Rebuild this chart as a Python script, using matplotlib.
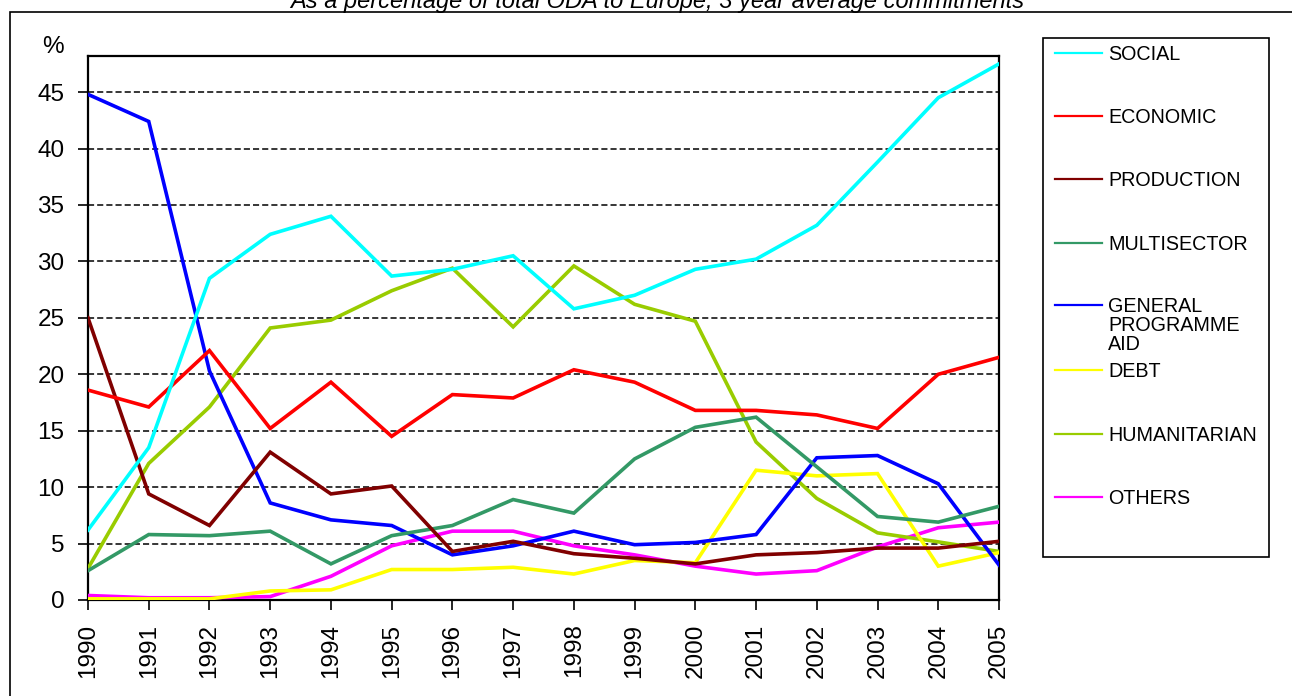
import matplotlib.pyplot as plt
from matplotlib.patches import Rectangle
from matplotlib.lines import Line2D

plt.rcParams['font.family'] = ['Liberation Sans', 'DejaVu Sans']

# --- DATA ---
years = list(range(1990, 2006))

social = [6.2, 13.5, 28.5, 32.4, 34.0, 28.7, 29.3, 30.5, 25.8, 27.0, 29.3, 30.2, 33.2, 38.8, 44.5, 47.5]
economic = [18.6, 17.1, 22.1, 15.2, 19.3, 14.5, 18.2, 17.9, 20.4, 19.3, 16.8, 16.8, 16.4, 15.2, 20.0, 21.5]
production = [25.0, 9.4, 6.6, 13.1, 9.4, 10.1, 4.3, 5.2, 4.1, 3.7, 3.2, 4.0, 4.2, 4.6, 4.6, 5.2]
multisector = [2.6, 5.8, 5.7, 6.1, 3.2, 5.7, 6.6, 8.9, 7.7, 12.5, 15.3, 16.2, 11.8, 7.4, 6.9, 8.3]
general_aid = [44.8, 42.4, 20.3, 8.6, 7.1, 6.6, 4.0, 4.8, 6.1, 4.9, 5.1, 5.8, 12.6, 12.8, 10.3, 3.1]
debt = [0.1, 0.1, 0.1, 0.8, 0.9, 2.7, 2.7, 2.9, 2.3, 3.5, 3.3, 11.5, 11.0, 11.2, 3.0, 4.2]
humanitarian = [2.8, 12.1, 17.1, 24.1, 24.8, 27.4, 29.4, 24.2, 29.6, 26.2, 24.7, 14.0, 9.0, 5.95, 5.15, 4.3]
others = [0.4, 0.2, 0.2, 0.3, 2.1, 4.8, 6.1, 6.1, 4.8, 4.0, 3.0, 2.3, 2.6, 4.7, 6.4, 6.9]

series_names = ["SOCIAL", "ECONOMIC", "PRODUCTION", "MULTISECTOR",
                "GENERAL\nPROGRAMME\nAID", "DEBT", "HUMANITARIAN", "OTHERS"]
series_values = [social, economic, production, multisector,
                 general_aid, debt, humanitarian, others]
series_colors = ["#00FFFF", "#FF0000", "#800000", "#339966",
                 "#0000FF", "#FFFF00", "#99CC00", "#FF00FF"]

title = "As a percentage of total ODA to Europe, 3 year average commitments"

# --- FIGURE ---
W, H = 1292, 696
fig = plt.figure(figsize=(W / 100, H / 100), dpi=100)

def fx(px):
    return px / W

def fy(py):
    return 1 - py / H

# outer chart frame (only left/top edges are inside the picture)
fig.patches.append(Rectangle((fx(10), fy(720)), fx(1320) - fx(10), fy(12) - fy(720),
                             transform=fig.transFigure, fill=False,
                             edgecolor='black', linewidth=1.2))

ax = fig.add_axes([fx(88), fy(600), fx(999) - fx(88), fy(56) - fy(600)])

# draw lines in reverse so SOCIAL sits on top
for name, vals, col in reversed(list(zip(series_names, series_values, series_colors))):
    ax.plot(years, vals, color=col, linewidth=2.6, solid_joinstyle='miter', zorder=3)

ax.set_xlim(1990, 2005)
ax.set_ylim(0, 48.2)
ax.set_yticks(range(0, 50, 5))
ax.set_xticks(years)
ax.set_xticklabels([str(y) for y in years], rotation=90)
ax.tick_params(axis='both', labelsize=17.5, direction='out', length=7, width=1.2,
               color='black')
ax.tick_params(axis='y', pad=10)
ax.tick_params(axis='x', pad=10)
ax.yaxis.grid(True, color='black', linestyle=(0, (4, 2)), linewidth=1.1)
ax.set_axisbelow(True)
for sp in ax.spines.values():
    sp.set_linewidth(1.6)
    sp.set_color('black')

fig.text(fx(42), fy(53), "%", fontsize=17.5, ha='left', va='baseline')
fig.text(fx(657), fy(8), title, fontsize=17, style='italic',
         ha='center', va='baseline')

# --- LEGEND (drawn by hand to mirror the spread-out Excel legend) ---
fig.patches.append(Rectangle((fx(1043), fy(557)), fx(1269) - fx(1043), fy(38) - fy(557),
                             transform=fig.transFigure, fill=False,
                             edgecolor='black', linewidth=1.2))
leg_y = [53, 116, 179, 243, 305, 370, 434, 497]
for name, col, ly in zip(series_names, series_colors, leg_y):
    fig.lines.append(Line2D([fx(1055), fx(1102)], [fy(ly), fy(ly)], color=col,
                            linewidth=1.6, transform=fig.transFigure))
    if "\n" in name:
        fig.text(fx(1108), fy(ly - 8), name, fontsize=14.2, ha='left', va='top',
                 linespacing=1.0)
    else:
        fig.text(fx(1108), fy(ly + 7), name, fontsize=14.2, ha='left', va='baseline')

fig.savefig("out.png", dpi=100)
